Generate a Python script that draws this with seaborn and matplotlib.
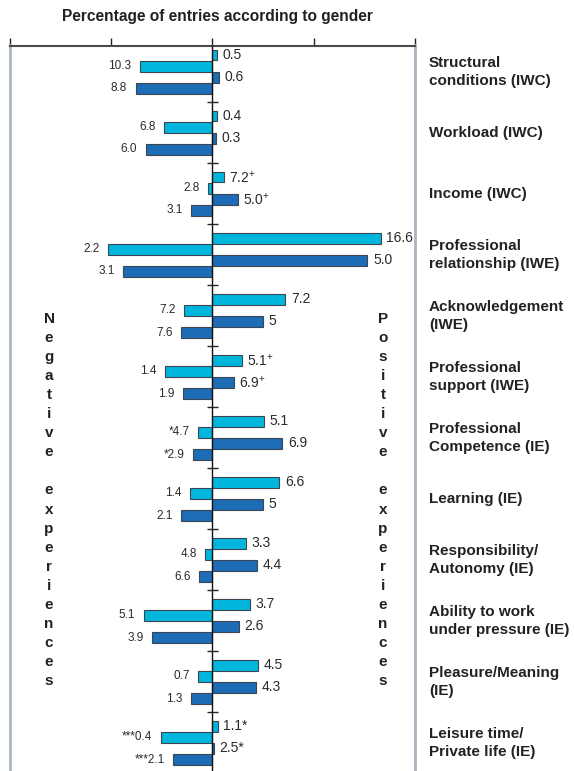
import numpy as np
import pandas as pd
import matplotlib
matplotlib.use("Agg")
import matplotlib.pyplot as plt
import seaborn as sns

# ---------------- data ----------------
categories = [
    "Structural\nconditions (IWC)",
    "Workload (IWC)",
    "Income (IWC)",
    "Professional\nrelationship (IWE)",
    "Acknowledgement\n(IWE)",
    "Professional\nsupport (IWE)",
    "Professional\nCompetence (IE)",
    "Learning (IE)",
    "Responsibility/\nAutonomy (IE)",
    "Ability to work\nunder pressure (IE)",
    "Pleasure/Meaning\n(IE)",
    "Leisure time/\nPrivate life (IE)",
]
series = ["light_pos", "light_neg", "dark_pos", "dark_neg"]

# bar lengths as drawn in the picture
light_pos = [0.45, 0.4, 1.1, 16.6, 7.2, 2.9, 5.1, 6.6, 3.3, 3.7, 4.5, 0.5]
light_neg = [-7.2, -4.8, -0.4, -10.3, -2.8, -4.7, -1.4, -2.2, -0.7, -6.8, -1.4, -5.1]
dark_pos = [0.6, 0.3, 2.5, 15.3, 5.0, 2.1, 6.9, 5.0, 4.4, 2.6, 4.3, 0.1]
dark_neg = [-7.6, -6.6, -2.1, -8.8, -3.1, -2.9, -1.9, -3.1, -1.3, -6.0, -2.1, -3.9]

# printed labels
light_pos_lbl = ["0.5", "0.4", "7.2$^{+}$", "16.6", "7.2", "5.1$^{+}$", "5.1", "6.6", "3.3", "3.7", "4.5", "1.1*"]
light_neg_lbl = ["10.3", "6.8", "2.8", "2.2", "7.2", "1.4", "*4.7", "1.4", "4.8", "5.1", "0.7", "***0.4"]
dark_pos_lbl = ["0.6", "0.3", "5.0$^{+}$", "5.0", "5", "6.9$^{+}$", "6.9", "5", "4.4", "2.6", "4.3", "2.5*"]
dark_neg_lbl = ["8.8", "6.0", "3.1", "3.1", "7.6", "1.9", "*2.9", "2.1", "6.6", "3.9", "1.3", "***2.1"]

xticks = [-20, -10, 0, 10, 20]
title = "Percentage of entries according to gender"
neg_text = "Negative experiences"
pos_text = "Positive experiences"

LIGHT = "#00b6dd"
DARK = "#1c6cb6"

# ---------------- style ----------------
sns.set_style("white")
plt.rcParams["font.family"] = ["Liberation Sans", "DejaVu Sans"]
plt.rcParams["mathtext.fontset"] = "custom"
plt.rcParams["mathtext.rm"] = "Liberation Sans"
plt.rcParams["mathtext.it"] = "Liberation Sans"

W, H = 574, 771
fig = plt.figure(figsize=(W / 100, H / 100), dpi=100)
fig.patch.set_facecolor("white")

ax_left, ax_right, ax_top = 10, 415, 45.5
ax = fig.add_axes([ax_left / W, 0, (ax_right - ax_left) / W, (H - ax_top) / H])

rows = []
for i, c in enumerate(categories):
    for s, vals in zip(series, [light_pos, light_neg, dark_pos, dark_neg]):
        rows.append({"category": c, "series": s, "value": vals[i]})
df = pd.DataFrame(rows)

palette = {"light_pos": LIGHT, "light_neg": LIGHT, "dark_pos": DARK, "dark_neg": DARK}
sns.barplot(data=df, x="value", y="category", hue="series", hue_order=series,
            order=categories, palette=palette, orient="h", width=0.728, gap=0.04,
            edgecolor="#3b4650", linewidth=0.8, legend=False, ax=ax, saturation=1)

# value labels
lbls = [light_pos_lbl, light_neg_lbl, dark_pos_lbl, dark_neg_lbl]
for k, cont in enumerate(ax.containers):
    if k % 2 == 0:
        ax.bar_label(cont, labels=lbls[k], padding=4, fontsize=10, color="#2a2a2a")
    else:
        ax.bar_label(cont, labels=lbls[k], padding=6, fontsize=8.5, color="#2a2a2a")

ax.set_xlim(-20, 20)
ax.set_ylim(11.46, -0.431)
ax.set_ylabel("")
ax.set_xlabel("")
ax.set_yticks([])
ax.xaxis.tick_top()
ax.set_xticks(xticks)
ax.set_xticklabels([])
ax.tick_params(axis="x", direction="out", length=6, width=1, color="#222222", top=True, bottom=False)

for sp in ["left", "right"]:
    ax.spines[sp].set_color("#a9b5c1")
    ax.spines[sp].set_linewidth(2)
ax.spines["top"].set_color("#4a4a4a")
ax.spines["top"].set_linewidth(1.5)
ax.spines["bottom"].set_visible(False)

ax.axvline(0, color="#111111", lw=1, zorder=5)
ax.hlines(np.arange(0.5, len(categories) - 0.5, 1), -0.5, 0.5, color="#222222", lw=1, zorder=5)

# category labels on right
for i, c in enumerate(categories):
    ax.text(1.0 + 14 / (ax_right - ax_left), i, c, transform=ax.get_yaxis_transform(),
            ha="left", va="center", fontsize=11, fontweight="bold", color="#222222",
            linespacing=1.35)

# title
fig.text(217 / W, 1 - 16 / H, title, ha="center", va="center", fontsize=11.2,
         fontweight="bold", color="#222222")

# vertical stacked text
def stacked(text, x_px, y0_px, step):
    for k, ch in enumerate(text):
        if ch == " ":
            continue
        fig.text(x_px / W, 1 - (y0_px + k * step) / H, ch, ha="center", va="center",
                 fontsize=11, fontweight="bold", color="#222222")

stacked(neg_text, 49, 319, 19.05)
stacked(pos_text, 383, 319, 19.05)

fig.savefig("out.png", dpi=100)
